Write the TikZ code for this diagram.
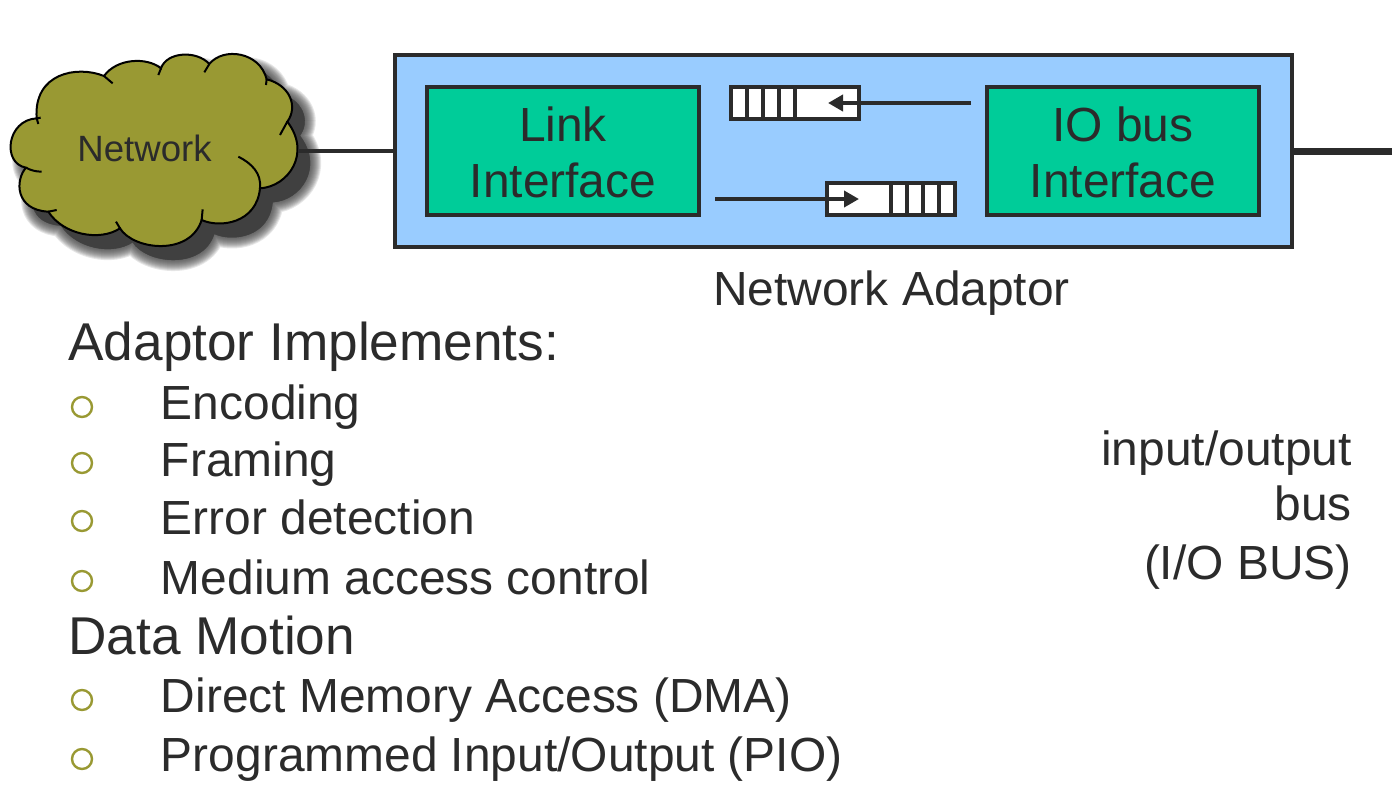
\documentclass[tikz,border=0pt]{standalone}
\usepackage{fontspec}
\usepackage{xcolor}
\usepackage{tikz}
\usetikzlibrary{arrows.meta}
\setmainfont{Liberation Sans}
\definecolor{inkgray}{HTML}{2B2B2B}
\definecolor{cloudolive}{HTML}{999933}
\definecolor{adaptorblue}{HTML}{99CCFF}
\definecolor{ifacegreen}{HTML}{00CC99}
\newcommand{\cloudpath}{(78,383) .. controls (45,420) and (45,510) .. (145,515)
  .. controls (190,585) and (300,605) .. (360,565)
  .. controls (400,630) and (570,650) .. (605,540)
  .. controls (660,565) and (770,550) .. (780,445)
  .. controls (865,440) and (935,340) .. (862,245)
  .. controls (895,200) and (870,135) .. (800,118)
  .. controls (780,35) and (670,20) .. (628,72)
  .. controls (590,30) and (500,35) .. (483,85)
  .. controls (440,50) and (350,55) .. (312,108)
  .. controls (230,75) and (100,100) .. (110,235)
  .. controls (20,240) and (5,370) .. (78,383) -- cycle}
\tikzset{
  bigtext/.style={font=\fontsize{23.95}{28}\selectfont,text=inkgray,inner sep=0pt},
  headtext/.style={font=\fontsize{26.6}{30}\selectfont,text=inkgray,inner sep=0pt,anchor=base west},
  itemtext/.style={bigtext,anchor=base west},
  bullet/.style={circle,draw=cloudolive,line width=1.2pt,fill=white,inner sep=0pt,minimum size=20*.5pt},
  adaptorbox/.style={draw=inkgray,line width=2pt,fill=adaptorblue,minimum width=897*.5pt,minimum height=192*.5pt,outer sep=0pt},
  ifacebox/.style={draw=inkgray,line width=2pt,fill=ifacegreen,minimum width=272*.5pt,minimum height=128*.5pt,outer sep=0pt},
  queuebox/.style={draw=inkgray,line width=2pt,fill=white,minimum width=128*.5pt,minimum height=32*.5pt,outer sep=0pt},
  wire/.style={draw=inkgray,line width=2pt},
  flow/.style={wire,-{Triangle[length=7.5pt,width=8pt]}}
}
\begin{document}
\begin{tikzpicture}[x=.5pt,y=-.5pt]
        \useasboundingbox (0,0) rectangle (1392,789);
        % cloud and its soft shadow
        \begin{scope}[shift={(0,40)},x=.5pt/3,y=-.5pt/3]
        \begin{scope}[shift={(38,42)}]
        \foreach \w in {11,10,9,8,7,6,5,4,3,2,1}
            \path[fill=black!75,draw=black!75,opacity=.13,line width=\w pt,line join=round] \cloudpath;
        \path[fill=black!75] \cloudpath;
        \end{scope}
        \path[fill=cloudolive,draw=black,line width=1pt] \cloudpath;
        \draw[black,line width=1pt] (78,383) .. controls (92,391) and (108,395) .. (125,395)
            (145,515) -- (170,510)
            (360,565) -- (348,545)
            (605,540) -- (608,508)
            (780,445) .. controls (785,400) and (755,370) .. (715,350)
            (862,245) -- (840,285)
            (800,118) -- (798,135)
            (628,72) -- (613,97)
            (483,85) -- (475,105)
            (312,108) -- (338,130)
            (110,235) -- (122,233)
            (110,235) -- (115,252);
        \end{scope}
        \node[font=\fontsize{18.3}{22}\selectfont,text=inkgray,inner sep=0pt,anchor=base west](network) at (77,161){Network};
        \coordinate (cloudedge) at (298,151);
        \coordinate (busend) at (1392,151);
        % adaptor
        \node[adaptorbox](adaptor) at (843.5,151){};
        \node[ifacebox](linkif) at (563,151){};
        \node[ifacebox](ioif) at (1123,151){};
        \node[bigtext,anchor=base](linklabel) at (563,141){Link};
        \node[bigtext,anchor=base](linklabel2) at (563,197){Interface};
        \node[bigtext,anchor=base](iolabel) at (1123,141){IO bus};
        \node[bigtext,anchor=base](iolabel2) at (1123,197){Interface};
        \draw[wire] (cloudedge) -- (adaptor.west);
        \draw[draw=inkgray,line width=3.5pt] (adaptor.east) -- (busend);
        % queues
        \node[queuebox](q_in) at (795,103){};
        \node[queuebox](q_out) at (891,199){};
        \foreach \x in {747,763,779,795}
            \draw[wire] (\x,87) -- (\x,119);
        \foreach \x in {891,907,923,939}
            \draw[wire] (\x,183) -- (\x,215);
        \coordinate (q_in_start) at (971,103);
        \coordinate (q_in_tip) at (828,103);
        \coordinate (q_out_start) at (715,199);
        \coordinate (q_out_tip) at (859,199);
        \draw[flow] (q_in_start) -- (q_in_tip);
        \draw[flow] (q_out_start) -- (q_out_tip);
        \node[bigtext,anchor=base](adaptorlabel) at (891.5,305){Network Adaptor};
        % lists
        \node[headtext](implements) at (68,360){Adaptor Implements:};
        \node[headtext](motion) at (68,654){Data Motion};
        \foreach \name/\y/\base/\txt in {enc/407/419/Encoding,fram/463/476/Framing,err/521/534/Error detection,mac/581/594/Medium access control,dma/700/712/Direct Memory Access (DMA),pio/759/771/{Programmed Input/Output (PIO)}}{
            \node[bullet](b_\name) at (82,\y){};
            \node[itemtext](t_\name) at (160.5,\base){\txt};
        }
        \node[bigtext,anchor=base east](bus1) at (1352,465){input/output};
        \node[bigtext,anchor=base east](bus2) at (1352,520){bus};
        \node[bigtext,anchor=base east](bus3) at (1352,579){(I/O BUS)};
\end{tikzpicture}
\end{document}
